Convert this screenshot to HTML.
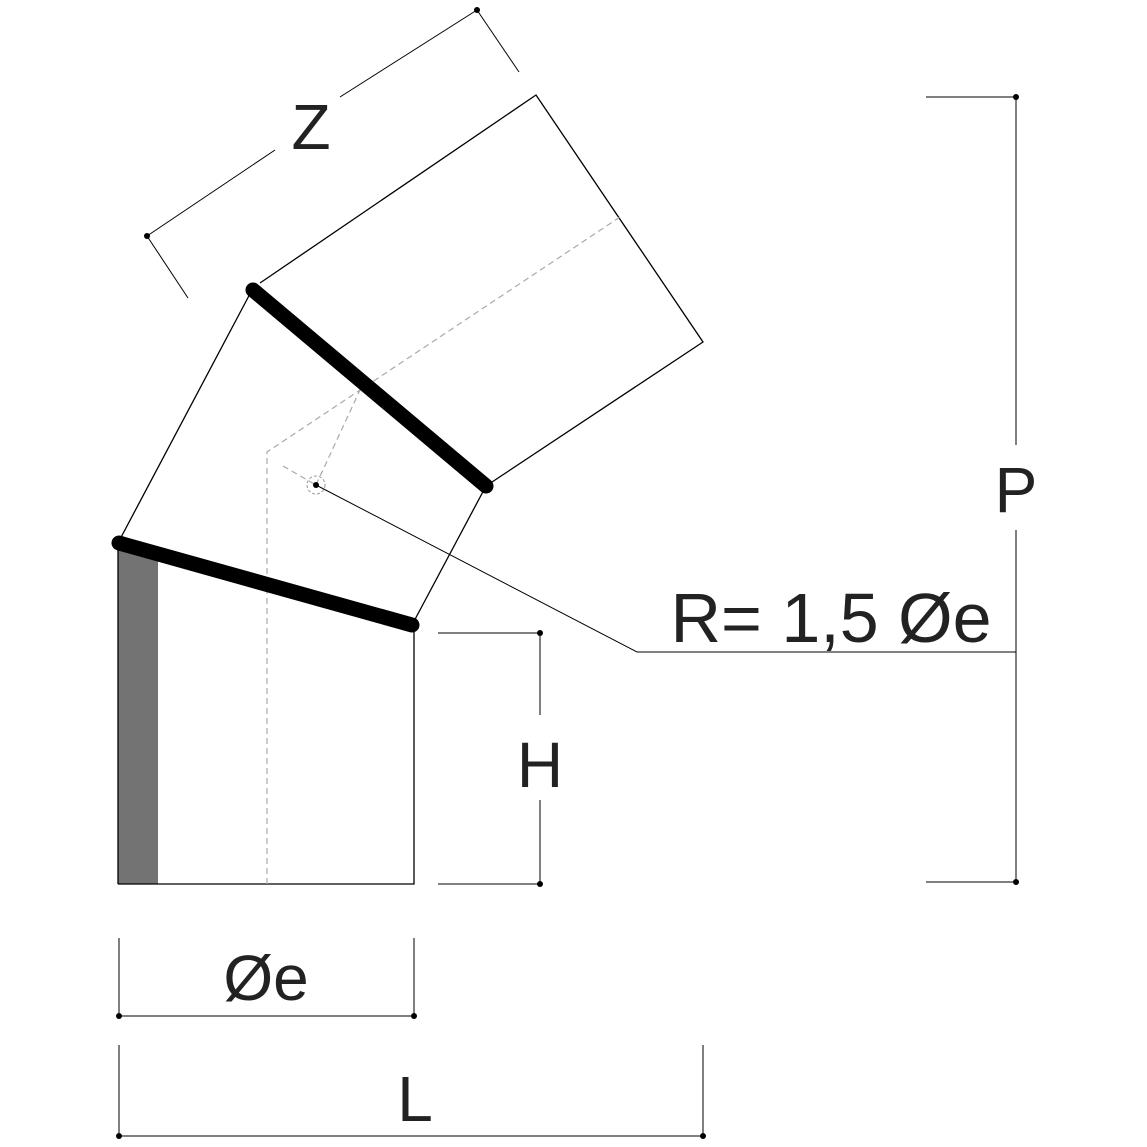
<!DOCTYPE html>
<html><head><meta charset="utf-8"><style>html,body{margin:0;padding:0;background:#fff}svg{display:block}</style></head>
<body>
<svg width="1147" height="1147" viewBox="0 0 1147 1147" xmlns="http://www.w3.org/2000/svg" font-family="Liberation Sans, sans-serif">
<rect x="0" y="0" width="1147" height="1147" fill="#fff"/>
<polygon points="118,548 158,559 158,884 118,884" fill="#737373"/>
<g fill="none" stroke="#000" stroke-width="1.3">
<polyline points="118,884 414,884 414,625"/>
<line x1="118" y1="543" x2="118" y2="884"/>
<line x1="118" y1="543" x2="252" y2="290"/>
<line x1="412" y1="625" x2="486" y2="486"/>
<polyline points="260,283 536,95 703,342 486,486"/>
</g>
<g fill="none" stroke="#aaa" stroke-width="1.2" stroke-dasharray="6,4">
<polyline points="267,884 267,452 620,217"/>
<line x1="283" y1="466" x2="316" y2="485"/>
<line x1="316" y1="485" x2="360" y2="390"/>
</g>
<circle cx="316" cy="485" r="9" fill="none" stroke="#999" stroke-width="1" stroke-dasharray="3,2"/>
<circle cx="316" cy="485" r="3" fill="#000"/>
<g stroke="#000" stroke-width="15" stroke-linecap="round">
<line x1="119" y1="543" x2="412" y2="625"/>
<line x1="253" y1="290" x2="486" y2="486"/>
</g>
<polyline points="316,485 637,652 1016,652" fill="none" stroke="#000" stroke-width="1"/>
<g fill="none" stroke="#000" stroke-width="1">
<line x1="147" y1="236" x2="275" y2="150"/><line x1="340" y1="97" x2="477" y2="10"/>
<line x1="147" y1="236" x2="188" y2="298"/><line x1="477" y1="10" x2="519" y2="72"/>
<line x1="1016" y1="97" x2="1016" y2="445"/><line x1="1016" y1="530" x2="1016" y2="882"/>
<line x1="926" y1="97" x2="1016" y2="97"/><line x1="926" y1="882" x2="1016" y2="882"/>
<line x1="540" y1="633" x2="540" y2="715"/><line x1="540" y1="800" x2="540" y2="884"/>
<line x1="438" y1="633" x2="540" y2="633"/><line x1="438" y1="884" x2="540" y2="884"/>
<line x1="119" y1="1016" x2="414" y2="1016"/>
<line x1="119" y1="938" x2="119" y2="1016"/><line x1="414" y1="938" x2="414" y2="1016"/>
<line x1="119" y1="1136" x2="703" y2="1136"/>
<line x1="119" y1="1045" x2="119" y2="1136"/><line x1="703" y1="1045" x2="703" y2="1136"/>
</g>
<g fill="#000">
<circle cx="147" cy="236" r="3"/><circle cx="477" cy="10" r="3"/>
<circle cx="1016" cy="97" r="3"/><circle cx="1016" cy="882" r="3"/>
<circle cx="540" cy="633" r="3"/><circle cx="540" cy="884" r="3"/>
<circle cx="119" cy="1016" r="3"/><circle cx="414" cy="1016" r="3"/>
<circle cx="119" cy="1136" r="3"/><circle cx="703" cy="1136" r="3"/>
</g>
<g fill="#222" font-size="64" text-anchor="middle">
<text x="311" y="149">Z</text>
<text x="1016" y="512">P</text>
<text x="540" y="787">H</text>
<text x="266" y="1000">Øe</text>
<text x="415" y="1121">L</text>
<text x="831" y="642" font-size="70">R= 1,5 Øe</text>
</g>
</svg>
</body></html>
